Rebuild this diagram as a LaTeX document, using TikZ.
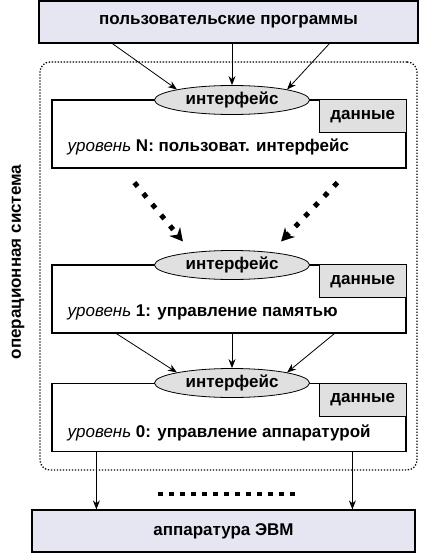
\documentclass[tikz,border=0pt]{standalone}
\usepackage{fontspec}
\setmainfont{Liberation Sans}
\usetikzlibrary{shapes.geometric,arrows.meta,calc}
\definecolor{lavfill}{HTML}{E6E6F2}
\definecolor{grayfill}{HTML}{E0E0E0}
\tikzset{
  x=1pt,y=-1pt,
  txt/.style={font=\fontsize{17}{19}\selectfont\bfseries},
  bigbox/.style={draw,line width=1.2pt,fill=lavfill,minimum height=42pt,inner sep=0pt,txt},
  levelbox/.style={draw,line width=1.2pt,fill=white,minimum width=354pt,minimum height=68pt,inner sep=0pt},
  iface/.style={ellipse,draw,line width=0.8pt,fill=grayfill,minimum width=155pt,minimum height=29pt,inner sep=0pt,txt},
  databox/.style={draw,line width=0.8pt,fill=grayfill,minimum width=87pt,minimum height=33pt,inner sep=0pt,anchor=north east,txt},
  leveltxt/.style={anchor=west,inner sep=0pt,txt},
  arr/.style={line width=0.8pt,-{Stealth[length=9pt,width=7pt]}},
  thickarr/.style={line width=5pt,dash pattern=on 5pt off 9pt,-{Stealth[length=13pt,width=14pt,line width=0pt]}},
  osframe/.style={draw,line width=1.3pt,dash pattern=on 1.3pt off 1.7pt,rounded corners=10pt,minimum width=377pt,minimum height=408pt,inner sep=0pt},
}
\begin{document}
\begin{tikzpicture}
\useasboundingbox (0,0) rectangle (426,557);
\node[osframe] (os) at (228.5,266) {};
\node[txt,rotate=90] (ostxt) at (18,262) {операционная система};
\node[bigbox,minimum width=379pt] (top) at (228.5,22) {пользовательские программы};
\node[bigbox,minimum width=383pt] (hw) at (223.5,531) {аппаратура ЭВМ};

% level N
\node[levelbox] (boxN) at (229,134) {};
\node[databox] (dN) at (boxN.north east) {данные};
\node[iface] (eN) at (232,100) {интерфейс};
\node[leveltxt] (tN) at ($(boxN.north west)+(16,48)$) {\textit{\mdseries уровень} N: пользоват. интерфейс};

% level 1
\node[levelbox] (box1) at (229,299) {};
\node[databox] (d1) at (box1.north east) {данные};
\node[iface] (e1) at (232,265) {интерфейс};
\node[leveltxt] (t1) at ($(box1.north west)+(16,48)$) {\textit{\mdseries уровень} 1: управление памятью};

% level 0
\node[levelbox] (box0) at (229,417.5) {};
\node[databox] (d0) at (box0.north east) {данные};
\node[iface] (e0) at (232,383) {интерфейс};
\node[leveltxt] (t0) at ($(box0.north west)+(16,50)$) {\textit{\mdseries уровень} 0: управление аппаратурой};

% top arrows
\draw[arr] ($(top.south west)+(74,0)$) -- (eN.north west);
\draw[arr] (top.south -| eN.north) -- (eN.north);
\draw[arr] ($(top.south west)+(291,0)$) -- (eN.north east);

% thick dotted arrows
\coordinate (dl) at ($(boxN.south west)+(83,14)$);
\coordinate (dr) at ($(boxN.south west)+(286,14)$);
\draw[thickarr] (dl) -- ($(e1.north west)+(6,-13)$);
\draw[thickarr] (dr) -- ($(e1.north east)+(-6,-13)$);

% level1 -> level0 arrows
\draw[arr] ($(box1.south west)+(65,0)$) -- (e0.north west);
\draw[arr] (box1.south -| e0.north) -- (e0.north);
\draw[arr] ($(box1.south west)+(283,0)$) -- (e0.north east);

% bottom arrows
\coordinate (bl) at ($(box0.south west)+(45,0)$);
\coordinate (br) at ($(box0.south west)+(301,0)$);
\draw[arr] (bl) -- (bl |- hw.north);
\draw[arr] (br) -- (br |- hw.north);

% dotted row
\draw[line width=4.5pt,dash pattern=on 4.5pt off 6.5pt] (158,494) -- (300,494);
\end{tikzpicture}
\end{document}
